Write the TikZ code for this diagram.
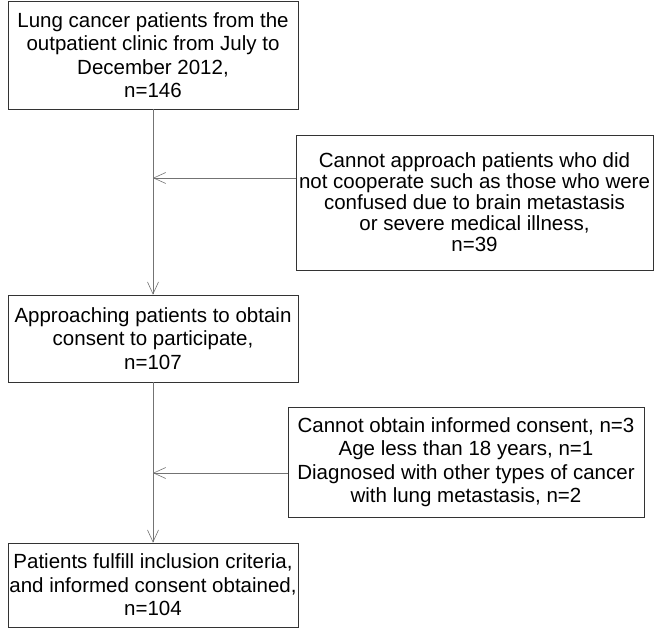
\documentclass[tikz,border=0pt]{standalone}
\usepackage{fontspec}
\setmainfont{Liberation Sans}
\usetikzlibrary{arrows.meta}

\begin{document}
\begin{tikzpicture}
    [x=1pt, y=-1pt,
    box/.style={draw=black!80, semithick, align=center, inner sep=0pt,
      font=\fontsize{20.5}{23.5}\selectfont},
    link/.style={draw=black!55, semithick,
      -{Straight Barb[length=12pt,width=11pt]}}]
    \useasboundingbox (0,0) rectangle (654,631);
    % main column
    \node[box, minimum width=290pt, minimum height=108pt] (lung) at (153,55)
      {Lung cancer patients from the\\outpatient clinic from July to\\December 2012,\\n=146};
    \node[box, minimum width=290pt, minimum height=87pt] (approach) at (153,338.5)
      {Approaching patients to obtain\\consent to participate,\\n=107};
    \node[box, minimum width=290pt, minimum height=84pt] (included) at (153,585)
      {Patients fulfill inclusion criteria,\\and informed consent obtained,\\n=104};
    % exclusions
    \node[box, minimum width=357pt, minimum height=135pt,
      font=\fontsize{20.5}{21}\selectfont] (noapproach) at (474.5,202.5)
      {Cannot approach patients who did\\not cooperate such as those who were\\confused due to brain metastasis\\or severe medical illness,\\n=39};
    \node[box, minimum width=356pt, minimum height=110pt] (noconsent) at (466,462)
      {Cannot obtain informed consent, n=3\\Age less than 18 years, n=1\\Diagnosed with other types of cancer\\with lung metastasis, n=2};
    \coordinate (out1) at ([yshift=24.5pt]noapproach.west);
    \coordinate (out2) at ([yshift=-11pt]noconsent.west);
    \coordinate (tap1) at (lung.south |- out1);
    \coordinate (tap2) at (approach.south |- out2);
    \draw[link] (lung) -- (approach);
    \draw[link] (approach) -- (included);
    \draw[link] (out1) -- (tap1);
    \draw[link] (out2) -- (tap2);
  \end{tikzpicture}
\end{document}
